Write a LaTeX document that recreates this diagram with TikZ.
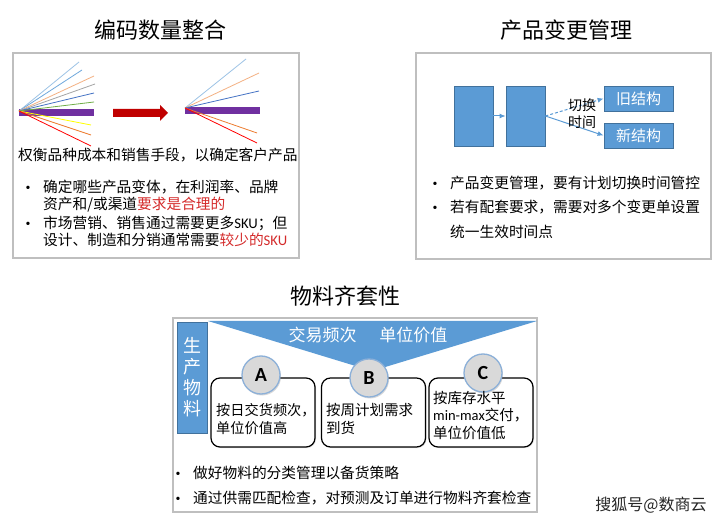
\documentclass[tikz,border=0pt]{standalone}
\usepackage{fontspec}
\setmainfont{Noto Sans CJK SC}
\newfontfamily\latfont{Carlito}
\newfontfamily\dotfont{Liberation Serif}
\usetikzlibrary{arrows.meta, positioning, shadows}
\definecolor{panelgray}{HTML}{BFBFBF}
\definecolor{boxblue}{HTML}{5B9BD5}
\definecolor{boxedge}{HTML}{41719C}
\definecolor{hlred}{HTML}{D42A2A}
\definecolor{barpurple}{HTML}{7030A0}
\definecolor{arrowred}{HTML}{C00000}
\definecolor{ringblue}{HTML}{8CB0D8}
\definecolor{markgray}{HTML}{D9D9D9}
\definecolor{lnLightblue}{HTML}{9DC3E6}
\definecolor{lnSky}{HTML}{6FA8DC}
\definecolor{lnPeach}{HTML}{F4B183}
\definecolor{lnGray}{HTML}{A5A5A5}
\definecolor{lnBlue}{HTML}{4472C4}
\definecolor{lnGreen}{HTML}{70AD47}
\definecolor{lnYellow}{HTML}{FFFF00}
\definecolor{lnOrange}{HTML}{ED7D31}
\definecolor{lnRed}{HTML}{FF0000}
\tikzset{
  panel/.style={draw=panelgray, line width=1.2pt},
  headline/.style={font=\fontsize{22}{26}\selectfont, anchor=base, inner sep=0pt},
  bodytext/.style={font=\fontsize{14.7}{17.5}\selectfont, anchor=base west, align=left, inner sep=0pt},
  widetext/.style={bodytext, font=\fontsize{14.7}{25.5}\selectfont},
  bulletdot/.style={font=\dotfont\fontsize{14}{17}\selectfont, anchor=base, inner sep=0pt},
  bluebox/.style={
    rectangle,
    draw=boxedge,
    fill=boxblue,
    line width=0.8pt,
    text=white,
    font=\fontsize{15}{18}\selectfont
  },
  abcbox/.style={
    rectangle,
    rounded corners=9pt,
    draw=black,
    fill=white,
    line width=1.2pt,
    minimum width=104pt,
    minimum height=69pt,
    drop shadow={opacity=0.25, shadow xshift=1pt, shadow yshift=-1pt}
  },
  abcmark/.style={
    circle,
    draw=ringblue,
    line width=1.3pt,
    fill=markgray,
    minimum size=38pt,
    inner sep=0pt,
    font=\latfont\bfseries\fontsize{20}{24}\selectfont,
    drop shadow={opacity=0.3, shadow xshift=1pt, shadow yshift=-1.5pt}
  },
  flowarrow/.style={-{Latex[length=6pt, width=5pt]}, draw=boxblue, line width=1pt}
}

\begin{document}
\begin{tikzpicture}[x=1pt, y=-1pt]
  \fill[white] (0,0) rectangle (720,518);

  % titles
  \node[headline] (titleL) at (160,38.5) {编码数量整合};
  \node[headline] (titleR) at (566,38.5) {产品变更管理};
  \node[headline] (titleB) at (345,305) {物料齐套性};

  % left panel
  \draw[panel] (13,53) rectangle (299,258);
  \fill[barpurple] (19,109.5) rectangle (94,116.5);
  \coordinate (fanL) at (19,111);
  \foreach \ex/\ey/\col in {79/62/lnLightblue, 82/70/lnSky, 94/76/lnPeach, 95/84/lnGray,
      94/93/lnBlue, 94/102/lnGreen, 91/125/lnYellow, 91/135/lnOrange, 91/146/lnRed}
    \draw[\col, line width=0.8pt] (fanL) -- (\ex,\ey);
  \fill[arrowred] (113,109) -- (160,109) -- (160,105) -- (168,113) -- (160,121) -- (160,117) -- (113,117) -- cycle;
  \fill[barpurple] (185,107.5) rectangle (260,114);
  \coordinate (fanR) at (185,108);
  \foreach \ex/\ey/\col in {246/59/lnLightblue, 259/73/lnPeach, 259/91/lnBlue,
      257/133/lnOrange, 257/143/lnRed}
    \draw[\col, line width=0.8pt] (fanR) -- (\ex,\ey);
  \node[bodytext] (tradeoff) at (18,160.5) {权衡品种成本和销售手段，以确定客户产品};
  \node[bulletdot] (dotL1) at (28,192.5) {•};
  \node[bodytext] (variants) at (43,210) {确定哪些产品变体，在利润率、品牌\\资产和/或渠道\textcolor{hlred}{要求是合理的}};
  \node[bulletdot] (dotL2) at (28,228.5) {•};
  \node[bodytext] (skuText) at (43,246) {市场营销、销售通过需要更多{\latfont SKU}；但\\设计、制造和分销通常需要\textcolor{hlred}{较少的{\latfont SKU}}};

  % right panel
  \draw[panel] (416,53) rectangle (711,259);
  \node[bluebox, minimum width=39pt, minimum height=60pt] (blockA) at (473.5,116) {};
  \node[bluebox, minimum width=39pt, minimum height=60pt] (blockB) at (525.5,116) {};
  \node[bluebox, minimum width=69pt, minimum height=25pt] (oldStruct) at (638.5,98.5) {旧结构};
  \node[bluebox, minimum width=69pt, minimum height=25pt] (newStruct) at (638.5,135.5) {新结构};
  \draw[flowarrow] (blockA) -- (blockB);
  \draw[flowarrow, dash pattern=on 3pt off 2pt] (blockB.east) -- (oldStruct.west);
  \draw[flowarrow] (blockB.east) -- (newStruct.west);
  \node[font=\fontsize{14}{17}\selectfont, align=center, inner sep=0pt] (switchTime) at (582,114) {切换\\时间};
  \node[bulletdot] (dotR1) at (435,188.5) {•};
  \node[widetext] (changeCtl) at (450,188.5) {产品变更管理，要有计划切换时间管控};
  \node[bulletdot] (dotR2) at (435,212.5) {•};
  \node[widetext] (matching) at (450,238) {若有配套要求，需要对多个变更单设置\\统一生效时间点};

  % bottom panel
  \draw[panel] (173,318) rectangle (537,512);
  \node[bluebox, minimum width=30pt, minimum height=111pt, align=center,
        font=\fontsize{18}{21}\selectfont] (prodMat) at (192,377.5) {生\\产\\物\\料};
  \fill[boxblue] (208,321) -- (537,321) -- (372,371) -- cycle;
  \node[text=white, font=\fontsize{17}{20}\selectfont, inner sep=0pt] (funnelText) at (368,335) {交易频次\hspace{23pt}单位价值};
  \node[abcbox] (boxA) at (263,412.5) {};
  \node[abcbox] (boxB) at (373.5,412.5) {};
  \node[abcbox] (boxC) at (481,412.5) {};
  \node[abcmark] (markA) at (261,375) {A};
  \node[abcmark] (markB) at (369,378) {B};
  \node[abcmark] (markC) at (483,373) {C};
  \node[bodytext, font=\fontsize{14.2}{17.5}\selectfont] (textA) at (216,433) {按日交货频次，\\单位价值高};
  \node[bodytext, font=\fontsize{14.5}{17.5}\selectfont] (textB) at (326,433) {按周计划需求\\到货};
  \node[bodytext, font=\fontsize{14.5}{17.5}\selectfont] (textC) at (433,438.5) {按库存水平\\{\latfont min-max}交付，\\单位价值低};
  \node[bulletdot] (dotB1) at (178,478.5) {•};
  \node[bodytext] (classify) at (193,478.5) {做好物料的分类管理以备货策略};
  \node[bulletdot] (dotB2) at (178,503.5) {•};
  \node[bodytext] (kitCheck) at (193,503.5) {通过供需匹配检查，对预测及订单进行物料齐套检查};

  % watermark
  \node[font=\fontsize{16}{19}\selectfont, text=black!85, inner sep=0pt] (mark) at (651,505) {搜狐号@数商云};
\end{tikzpicture}
\end{document}
